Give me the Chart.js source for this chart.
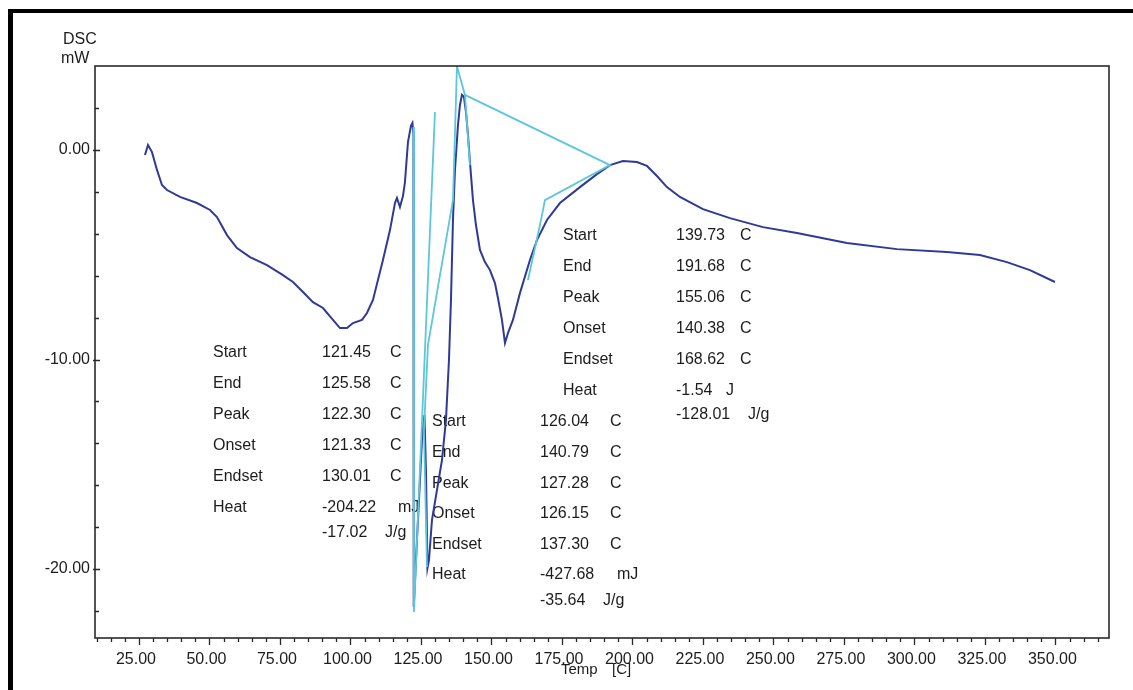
<!DOCTYPE html>
<html>
<head>
<meta charset="utf-8">
<script src="https://cdn.jsdelivr.net/npm/chart.js@4.4.1/dist/chart.umd.min.js"></script>
<style>
  html, body { margin: 0; padding: 0; background: #ffffff; }
  #wrap { position: relative; width: 1133px; height: 690px; overflow: hidden; }
  #c { position: absolute; left: 0; top: 0; }
  .bar { position: absolute; background: #000; }
</style>
</head>
<body>
<div id="wrap">
  <canvas id="c" width="1133" height="690"></canvas>
  <div class="bar" style="left:8px;top:9px;width:5px;height:681px;"></div>
  <div class="bar" style="left:8px;top:9px;width:1125px;height:4px;"></div>
</div>
<script>
// ---- DSC curve (Temp [C] vs DSC [mW]) ----
const tempC = [27.13, 28.19, 29.61, 31.38, 33.15, 34.93, 39.54, 45.57, 50.18, 52.66,
  56.20, 59.75, 64.36, 70.39, 76.06, 79.61, 83.15, 86.70, 90.25, 93.79,
  96.28, 98.76, 100.88, 104.08, 105.85, 107.98, 111.52, 114.01, 115.78, 116.49,
  117.55, 118.62, 119.32, 120.39, 121.45, 121.98, 122.34, 122.34, 122.52, 123.23,
  124.29, 125.35, 126.24, 126.77, 127.30, 127.84, 128.90, 130.67, 132.45, 133.86,
  134.93, 135.64, 136.35, 137.06, 138.12, 138.83, 139.54, 140.25, 140.96, 141.67,
  142.37, 143.44, 144.50, 145.92, 147.69, 149.47, 151.24, 152.30, 153.72, 154.79,
  155.85, 157.62, 160.10, 163.65, 166.13, 169.68, 174.29, 181.38, 187.41, 192.02,
  196.63, 201.59, 205.14, 208.69, 212.23, 216.84, 225.00, 234.57, 246.28, 258.33,
  276.06, 293.79, 311.52, 323.23, 332.80, 340.96, 349.82];
const dscMW = [-0.24, 0.24, -0.10, -0.95, -1.67, -1.91, -2.24, -2.53, -2.86, -3.20,
  -4.06, -4.68, -5.11, -5.49, -5.97, -6.30, -6.78, -7.26, -7.54, -8.11,
  -8.50, -8.50, -8.26, -8.11, -7.78, -7.16, -5.25, -3.82, -2.53, -2.29,
  -2.72, -2.20, -1.53, 0.38, 1.15, 1.29, 0.72, -11.93, -21.81, -19.57,
  -16.71, -13.84, -12.65, -15.27, -19.95, -19.57, -17.66, -16.23, -14.80, -12.89,
  -10.02, -7.16, -3.34, -0.95, 1.19, 2.15, 2.63, 2.53, 1.81, 0.72,
  -0.57, -2.39, -3.58, -4.77, -5.35, -5.73, -6.35, -7.06, -8.11, -9.21,
  -8.74, -8.11, -6.83, -5.25, -4.30, -3.34, -2.53, -1.77, -1.15, -0.72,
  -0.53, -0.57, -0.76, -1.24, -1.77, -2.24, -2.82, -3.25, -3.68, -3.96,
  -4.44, -4.73, -4.87, -5.01, -5.35, -5.73, -6.30];

// ---- analysis baselines / tangents (cyan) ----
const base1Temp = [122.34, 122.52, 129.96];
const base1Dsc  = [1.10, -22.05, 1.81];
const base2Temp = [142.37, 140.60, 137.76, 136.35, 131.74, 127.48, 126.06, 127.13];
const base2Dsc  = [-0.72, 2.63, 4.00, -2.39, -5.97, -9.31, -13.37, -19.90];
const base3Temp = [140.60, 192.02, 168.97, 167.20, 162.94];
const base3Dsc  = [2.63, -0.72, -2.39, -3.58, -6.21];

// ---- tick labels ----
const xTickValues = [25, 50, 75, 100, 125, 150, 175, 200, 225, 250, 275, 300, 325, 350];
const yTickValues = [0, -10, -20];

// ---- analysis result texts ----
const fieldNames = ['Start', 'End', 'Peak', 'Onset', 'Endset', 'Heat'];
const peak1Values = ['121.45', '125.58', '122.30', '121.33', '130.01', '-204.22', '-17.02'];
const peak1Units  = ['C', 'C', 'C', 'C', 'C', 'mJ', 'J/g'];
const peak2Values = ['126.04', '140.79', '127.28', '126.15', '137.30', '-427.68', '-35.64'];
const peak2Units  = ['C', 'C', 'C', 'C', 'C', 'mJ', 'J/g'];
const peak3Values = ['139.73', '191.68', '155.06', '140.38', '168.62', '-1.54', '-128.01'];
const peak3Units  = ['C', 'C', 'C', 'C', 'C', 'J', 'J/g'];

const toXY = (xs, ys) => xs.map((x, i) => ({ x: x, y: ys[i] }));

// layout of text blocks (pixels)
const blocks = [
  { names: fieldNames, vals: peak1Values, units: peak1Units, lx: 213, vx: 322,
    ux: [390, 390, 390, 390, 390, 398, 385], ys: [353, 384, 415, 446, 477, 508, 533] },
  { names: fieldNames, vals: peak2Values, units: peak2Units, lx: 432, vx: 540,
    ux: [610, 610, 610, 610, 610, 617, 603], ys: [422, 453, 484, 514, 545, 575, 601] },
  { names: fieldNames, vals: peak3Values, units: peak3Units, lx: 563, vx: 676,
    ux: [740, 740, 740, 740, 740, 726, 748], ys: [236, 267, 298, 329, 360, 391, 415] }
];

const FONT = "'Liberation Sans', Arial, sans-serif";
const TXT = '#1c1c1c';

const textPlugin = {
  id: 'texts',
  beforeDatasetsDraw(chart) {
    const ctx = chart.ctx;
    ctx.save();
    ctx.fillStyle = TXT;
    ctx.font = '16px ' + FONT;
    ctx.textBaseline = 'middle';
    ctx.textAlign = 'left';
    blocks.forEach(b => {
      b.names.forEach((n, i) => ctx.fillText(n, b.lx, b.ys[i]));
      b.vals.forEach((v, i) => {
        ctx.fillText(v, b.vx, b.ys[i]);
        ctx.fillText(b.units[i], b.ux[i], b.ys[i]);
      });
    });
    ctx.restore();
  },
  afterDraw(chart) {
    const ctx = chart.ctx;
    const a = chart.chartArea;
    const xs = chart.scales.x, ys = chart.scales.y;
    ctx.save();
    // frame
    ctx.strokeStyle = '#2a2a2a';
    ctx.lineWidth = 1.6;
    ctx.strokeRect(a.left, a.top, a.right - a.left, a.bottom - a.top);
    // x ticks (outside, below)
    ctx.lineWidth = 1.3;
    ctx.beginPath();
    for (let v = 10; v <= 365; v += 5) {
      const px = Math.round(xs.getPixelForValue(v)) + 0.5;
      const len = (v % 25 === 0) ? 7 : 4;
      ctx.moveTo(px, a.bottom);
      ctx.lineTo(px, a.bottom + len);
    }
    // y ticks (inside)
    for (let v = -22; v <= 2; v += 2) {
      const py = Math.round(ys.getPixelForValue(v)) + 0.5;
      const major = (v % 10 === 0);
      ctx.moveTo(a.left - (major ? 2 : 0), py);
      ctx.lineTo(a.left + (major ? 5 : 4), py);
    }
    ctx.stroke();
    // axis titles
    ctx.fillStyle = TXT;
    ctx.textBaseline = 'middle';
    ctx.textAlign = 'left';
    ctx.font = '16px ' + FONT;
    ctx.fillText('DSC', 63, 40);
    ctx.fillText('mW', 61, 59);
    ctx.font = '15px ' + FONT;
    ctx.fillText('Temp', 561, 670);
    ctx.fillText('[C]', 612, 670);
    ctx.restore();
  }
};

const lineDs = (data, color, width, order) => ({
  data: data, showLine: true, borderColor: color, backgroundColor: color,
  borderWidth: width, pointRadius: 0, pointHoverRadius: 0, tension: 0,
  fill: false, order: order
});

new Chart(document.getElementById('c'), {
  type: 'scatter',
  data: {
    datasets: [
      lineDs(toXY(base1Temp, base1Dsc), '#5cc6da', 1.8, 1),
      lineDs(toXY(base2Temp, base2Dsc), '#5cc6da', 1.8, 1),
      lineDs(toXY(base3Temp, base3Dsc), '#5cc6da', 1.8, 1),
      lineDs(toXY(tempC, dscMW), '#2e3a96', 2, 2)
    ]
  },
  options: {
    responsive: false,
    devicePixelRatio: 1,
    animation: false,
    layout: { padding: { left: 0, right: 24, top: 66, bottom: 0 } },
    plugins: { legend: { display: false }, tooltip: { enabled: false } },
    scales: {
      x: {
        type: 'linear', min: 9.4, max: 369,
        afterBuildTicks: s => { s.ticks = xTickValues.map(v => ({ value: v })); },
        afterFit: s => { s.height = 52; },
        grid: { display: false, drawTicks: false },
        border: { display: false },
        ticks: {
          autoSkip: false, maxRotation: 0, padding: 12, labelOffset: -3,
          color: TXT, font: { family: FONT, size: 16 },
          callback: v => Number(v).toFixed(2)
        }
      },
      y: {
        type: 'linear', min: -23.29, max: 4.01,
        afterBuildTicks: s => { s.ticks = yTickValues.map(v => ({ value: v })); },
        afterFit: s => { s.width = 95; },
        grid: { display: false, drawTicks: false },
        border: { display: false },
        ticks: {
          padding: 5, color: TXT, font: { family: FONT, size: 16 },
          callback: v => Number(v).toFixed(2)
        }
      }
    }
  },
  plugins: [textPlugin]
});
</script>
</body>
</html>
